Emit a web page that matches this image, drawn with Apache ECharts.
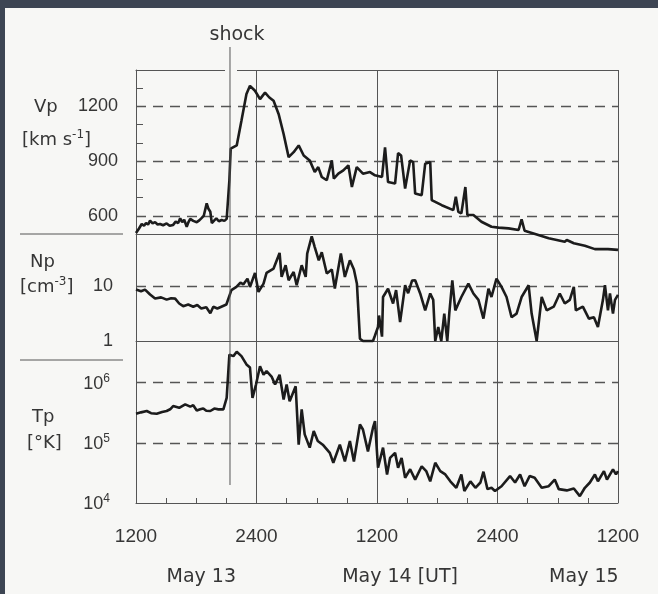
<!DOCTYPE html>
<html><head><meta charset="utf-8">
<script src="https://cdn.jsdelivr.net/npm/echarts@6/dist/echarts.min.js"></script>
<style>
html,body{margin:0;padding:0;background:#3d4553;overflow:hidden;}
#bg{position:absolute;left:5px;top:8px;width:653px;height:586px;background:#f7f7f5;}
#chart{position:absolute;left:0;top:0;width:658px;height:594px;}
</style></head><body>
<div id="bg"></div><div id="chart"></div>
<script>
// ---- data (hours after May 13 1200 UT) ----
const vpHours = [0,0.3,0.57,0.8,1.0,1.2,1.4,1.65,1.9,2.15,2.4,2.7,3.05,3.35,3.7,3.95,4.2,4.4,4.6,4.8,5.05,5.2,5.4,5.7,6.05,6.3,6.5,6.75,7.04,7.2,7.4,7.55,7.8,8.0,8.25,8.53,8.8,9.03,9.2,9.3,9.43,10.03,10.5,11.0,11.35,11.85,12.35,12.85,13.28,13.7,14.2,14.7,15.2,15.7,16.2,16.7,17.3,17.8,18.15,18.5,19.0,19.5,19.7,20.15,20.65,21.15,21.5,21.98,22.6,23.3,23.8,24.5,24.8,25.1,25.8,26.1,26.4,26.8,27.3,27.6,27.8,28.45,28.8,29.3,29.45,30.45,31.6,31.85,32.1,32.4,32.8,33.0,33.6,34.4,35.4,36.1,37.1,38.1,38.4,38.7,39.75,41.1,42.7,42.9,43.6,44.7,45.7,47.0,48.0];
const vpValues = [505,530,555,545,560,552,573,558,565,552,555,548,558,545,550,568,560,586,565,578,540,562,583,572,565,575,586,600,668,640,622,560,575,586,570,577,572,583,590,795,968,986,1122,1268,1313,1286,1240,1276,1249,1231,1159,1049,922,949,986,931,904,840,867,813,795,904,804,831,849,877,758,867,831,840,822,813,976,785,777,944,931,749,904,895,722,713,886,895,686,658,631,704,622,613,758,604,604,567,540,535,531,522,580,518,500,477,458,467,449,435,417,417,413];

const npHours = [0,0.5,0.9,1.4,1.9,2.5,3.05,3.5,3.9,4.3,4.7,5.2,5.7,6.1,6.5,7.0,7.4,7.7,8.1,8.5,9.0,9.5,10.0,10.4,10.7,11.1,11.35,11.85,12.2,12.7,13.0,13.7,14.3,14.5,14.9,15.2,15.7,16.0,16.5,16.9,17.05,17.5,17.8,18.2,18.5,19.0,19.5,19.8,20.4,20.8,21.3,21.7,22.0,22.3,22.6,23.6,23.8,24.1,24.2,24.5,24.6,25.1,25.6,25.9,26.3,26.8,27.1,27.5,27.8,28.3,28.8,29.3,29.6,29.8,30.1,30.4,30.7,31.0,31.2,31.5,31.8,32.4,33.1,33.6,34.1,34.6,35.1,35.4,35.9,36.4,36.9,37.4,37.9,38.4,39.1,39.4,39.9,40.4,40.9,41.6,42.2,42.7,43.2,43.6,43.8,44.5,45.1,45.6,46.0,46.5,46.7,47.0,47.2,47.5,47.7,48.0];
const npValues = [8.6,8.0,8.6,7.0,5.9,6.2,5.65,6.0,5.9,4.8,4.3,4.6,4.2,4.5,3.9,4.1,3.2,4.2,3.9,4.2,4.6,8.4,9.6,11.5,10.7,13.6,9.6,17.3,7.8,11,17.3,20.7,39.8,14.6,23.8,12.7,18,10.3,23.8,14.6,38.8,80,51,29.3,41,16.8,20,9.0,38.8,14.6,29.3,20,11,1.1,1.0,1.0,1.26,1.8,2.9,1.2,6.3,8.9,4.8,8.4,2.2,10.3,7.4,12.6,12.7,7.3,3.6,7.3,5.6,1.0,1.8,1.0,3.15,1.0,3.2,12.7,3.6,6.3,11,7.3,5.6,2.55,8.9,6.3,13.6,9.6,6.3,2.7,3.15,6.3,10.3,3.15,1.0,6.3,3.6,4.2,7.3,4.8,5.6,9.6,3.6,4.2,2.55,2.7,1.8,5.6,10.3,3.6,7.3,3.15,5.6,6.9];

const tpHours = [0,0.5,1.07,1.5,2.06,2.6,3.05,3.4,3.7,4.3,4.9,5.4,5.7,6.05,6.4,6.7,7.0,7.4,7.8,8.2,8.7,9.03,9.3,9.7,10.03,10.5,11.0,11.35,11.6,11.95,12.35,12.7,13.0,13.5,13.85,14.3,14.7,15.0,15.3,15.7,15.9,16.2,16.5,16.8,17.3,17.7,18.1,18.6,19.3,19.65,20.3,20.8,21.3,21.7,22.3,22.6,23.1,23.6,23.8,24.1,24.6,25.0,25.3,25.8,26.1,26.45,26.8,27.3,27.8,28.45,28.9,29.3,29.8,30.3,30.8,31.3,31.9,32.4,32.7,33.3,33.8,34.3,34.6,35.0,35.4,35.75,36.4,37.25,37.75,38.25,38.7,39.2,39.7,40.4,41.1,41.7,42.1,42.9,43.6,44.2,44.7,45.2,45.7,46.0,46.6,46.9,47.5,47.8,48.0];
const tpValues = [3.04e5,3.2e5,3.37e5,3.1e5,3.04e5,3.25e5,3.37e5,3.6e5,4.07e5,3.8e5,4.35e5,3.98e5,4.2e5,3.43e5,3.6e5,3.72e5,3.4e5,3.37e5,3.7e5,3.59e5,3.59e5,5.57e5,2.91e6,2.75e6,3.24e6,2.75e6,2.0e6,1.78e6,5.57e5,9.27e5,1.86e6,1.35e6,1.55e6,1.26e6,9.27e5,1.35e6,5.22e5,9.27e5,4.9e5,7.2e5,8.7e5,9.3e4,3.59e5,1.38e5,8.3e4,1.57e5,1.07e5,9.3e4,6.8e4,4.66e4,9.3e4,4.9e4,1.07e5,4.9e4,2.01e5,1.66e5,7.2e4,1.78e5,2.29e5,3.85e4,8.3e4,2.98e4,5.6e4,6.8e4,3.85e4,5.6e4,2.63e4,3.63e4,2.45e4,4.07e4,3.39e4,2.29e4,4.66e4,3.39e4,2.98e4,2.29e4,1.79e4,2.98e4,1.58e4,2.29e4,1.79e4,2.19e4,3.31e4,1.7e4,1.79e4,1.58e4,1.9e4,2.8e4,2.19e4,2.98e4,1.9e4,2.8e4,2.63e4,1.79e4,1.9e4,2.45e4,1.7e4,1.62e4,1.74e4,1.3e4,1.79e4,2.19e4,2.98e4,2.29e4,3.39e4,2.45e4,3.63e4,2.98e4,3.39e4];

const shockHour = 9.36;
const xTickHours = [0,12,24,36,48];
const xTickLabels = ['1200','2400','1200','2400','1200'];
const dateLabels = ['May 13','May 14 [UT]','May 15'];
const dateHours = [6.5,26.3,44.6];
const vpTickLabels = [600,900,1200];
const npTickLabels = [1,10];
const tpTickExp = [4,5,6];
const vpDashed = [600,900,1200];
const npDashed = [10];
const tpDashed1e6 = 1e6;
const tpDashed1e5 = 1e5;
const tpGap1e5 = [15.2,25.0];

// ---- chart ----
const FONT = 'Liberation Sans';
const WFONT = 'DejaVu Sans';
const TXT = '#363636';
const LINE = '#555';
const CURVE = '#1c1c1c';
const BG = '#f7f7f5';
const zip = (a,b) => a.map((h,i)=>[h,b[i]]);
const near = (a,b) => Math.abs(a-b) < 1e-6*Math.max(1,Math.abs(b));
const dashStyle = {type:[10,7], color:LINE, width:1.4};

const chart = echarts.init(document.getElementById('chart'), null, {renderer:'canvas'});

function topXAxis(gi){
  return {gridIndex:gi, type:'value', min:0, max:48, interval:12, position:'top',
    axisLine:{show:true, onZero:false, lineStyle:{color:LINE,width:1}},
    axisTick:{show:false}, axisLabel:{show:false},
    splitLine:{show:true, lineStyle:{color:LINE,width:1}}};
}
const yLine = {show:true, onZero:false, lineStyle:{color:LINE,width:1}};
const labelBase = {fontFamily:FONT, fontSize:18, color:TXT};

const option = {
  animation:false,
  backgroundColor:'transparent',
  grid:[
    {left:136, right:40, top:70, height:164},
    {left:136, right:40, top:234, height:107},
    {left:136, right:40, top:341, height:162}
  ],
  xAxis:[
    topXAxis(0), topXAxis(1), topXAxis(2),
    {gridIndex:2, type:'value', min:0, max:48, interval:3, position:'bottom',
      axisLine:{show:true, onZero:false, lineStyle:{color:LINE,width:1}},
      axisTick:{show:true, inside:true, length:5, lineStyle:{color:LINE,width:1}},
      splitLine:{show:false},
      axisLabel:Object.assign({}, labelBase, {fontSize:19, margin:24, formatter:v=>{
        const i = xTickHours.findIndex(h=>near(h,v)); return i>=0 ? xTickLabels[i] : '';}})}
  ],
  yAxis:[
    {gridIndex:0, type:'value', min:500, max:1400, interval:100,
      axisLine:yLine, axisTick:{show:true, inside:true, length:7, lineStyle:{color:LINE,width:1}},
      splitLine:{show:false},
      axisLabel:Object.assign({}, labelBase, {margin:18, showMinLabel:true, showMaxLabel:true,
        formatter:v=> vpTickLabels.some(t=>near(t,v)) ? String(v) : ''})},
    {gridIndex:1, type:'log', logBase:10, min:1, max:88,
      axisLine:yLine, axisTick:{show:false}, splitLine:{show:false},
      axisLabel:Object.assign({}, labelBase, {margin:23,
        formatter:v=>{ const t = npTickLabels.find(t=>near(t,v)); return t!==undefined ? String(t) : '';}})},
    {gridIndex:2, type:'log', logBase:10, min:1e4, max:4.9e6,
      axisLine:yLine, axisTick:{show:false}, splitLine:{show:false},
      axisLabel:Object.assign({}, labelBase, {margin:26,
        formatter:v=>{ const e = Math.round(Math.log10(v)*1000)/1000;
          return tpTickExp.includes(e) ? '{b|10}{s|'+e+'}' : '';},
        rich:{b:{fontFamily:FONT,fontSize:18,color:TXT,verticalAlign:'bottom'},
              s:{fontFamily:FONT,fontSize:12,color:TXT,verticalAlign:'bottom',padding:[0,0,8,0]}}})}
  ],
  series:[
    {type:'line', xAxisIndex:0, yAxisIndex:0, data:zip(vpHours,vpValues), symbol:'none', clip:false, z:5,
      lineStyle:{color:CURVE,width:2.6}, silent:true,
      markLine:{silent:true, symbol:'none', label:{show:false}, lineStyle:dashStyle,
        data:vpDashed.map(v=>({yAxis:v}))}},
    {type:'line', xAxisIndex:1, yAxisIndex:1, data:zip(npHours,npValues), symbol:'none', clip:false, z:5,
      lineStyle:{color:CURVE,width:2.6}, silent:true,
      markLine:{silent:true, symbol:'none', label:{show:false}, lineStyle:dashStyle,
        data:npDashed.map(v=>({yAxis:v}))}},
    {type:'line', xAxisIndex:2, yAxisIndex:2, data:zip(tpHours,tpValues), symbol:'none', clip:false, z:5,
      lineStyle:{color:CURVE,width:2.6}, silent:true,
      markLine:{silent:true, symbol:'none', label:{show:false}, lineStyle:dashStyle,
        data:[{yAxis:tpDashed1e6},
              [{coord:[0,tpDashed1e5]},{coord:[tpGap1e5[0],tpDashed1e5]}],
              [{coord:[tpGap1e5[1],tpDashed1e5]},{coord:[48,tpDashed1e5]}]]}}
  ]
};
chart.setOption(option);

// ---- annotations positioned through the axes ----
const sx = chart.convertToPixel({xAxisIndex:0}, shockHour);
const topY = chart.convertToPixel({yAxisIndex:0}, 1400);
const tpBottom = chart.convertToPixel({yAxisIndex:2}, 1e4);
const npBottom = chart.convertToPixel({yAxisIndex:1}, 1);
const vpBottom = chart.convertToPixel({yAxisIndex:0}, 500);
const txt = (x,y,text,align,size,extra) => ({type:'text', x:x, y:y, z:20,
  style:Object.assign({text:text, font:(size||18)+'px "DejaVu Sans"', fill:TXT, align:align||'left', verticalAlign:'middle'}, extra||{})});
const richSup = {n:{fontFamily:WFONT,fontSize:18,color:TXT,verticalAlign:'bottom'},
                 s:{fontFamily:WFONT,fontSize:12,color:TXT,verticalAlign:'bottom',padding:[0,0,8,0]}};
const graphics = [
  {type:'rect', z:15, shape:{x:sx-5, y:topY-2, width:12, height:4}, style:{fill:BG}},
  {type:'line', z:16, shape:{x1:sx, y1:47, x2:sx, y2:tpBottom-18}, style:{stroke:LINE, lineWidth:1}},
  txt(sx+7, 35, 'shock', 'center', 19),
  {type:'line', z:16, shape:{x1:20, y1:vpBottom, x2:123, y2:vpBottom}, style:{stroke:LINE, lineWidth:1}},
  {type:'line', z:16, shape:{x1:20, y1:npBottom+19, x2:123, y2:npBottom+19}, style:{stroke:LINE, lineWidth:1}},
  txt(34, 107, 'Vp'),
  txt(22, 139, '', 'left', 18, {text:'{n|[km s}{s|-1}{n|]}', rich:richSup}),
  txt(30, 262, 'Np'),
  txt(20, 286, '', 'left', 18, {text:'{n|[cm}{s|-3}{n|]}', rich:richSup}),
  txt(32, 417, 'Tp'),
  txt(27, 443, '[°K]')
];
dateLabels.forEach((d,i)=>{
  graphics.push(txt(chart.convertToPixel({xAxisIndex:3}, dateHours[i]), 577, d, 'center', 19));
});
chart.setOption({graphic:graphics});
</script>
</body></html>
